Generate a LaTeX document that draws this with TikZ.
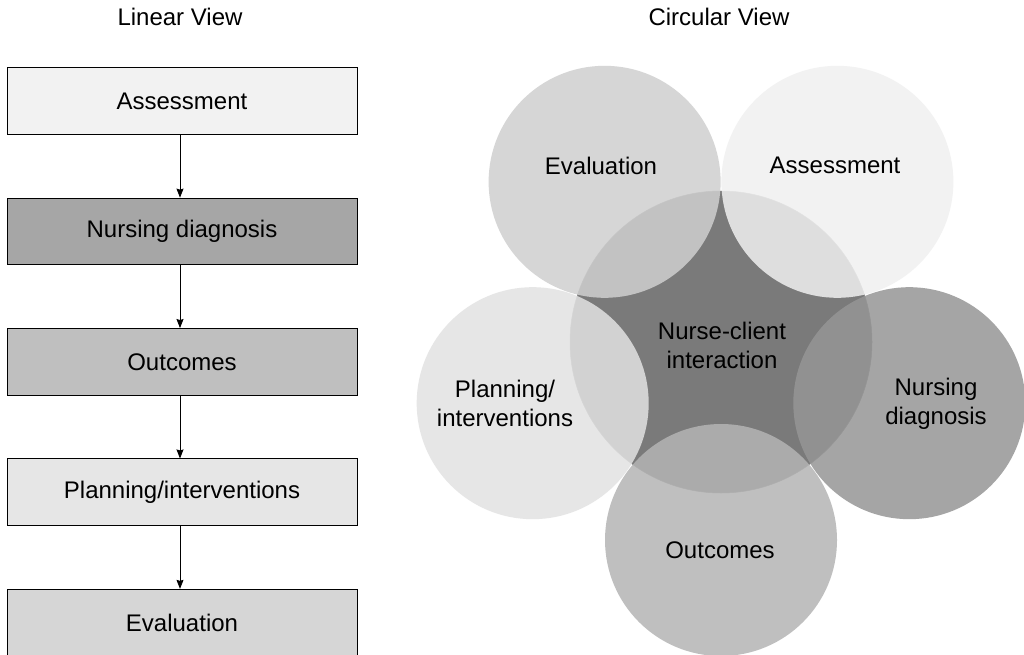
\documentclass[tikz,border=0pt]{standalone}
\usepackage{fontspec}
\setmainfont{Liberation Sans}
\usetikzlibrary{positioning,arrows.meta}

\definecolor{assesscol}{RGB}{242,242,242}
\definecolor{diagcol}{RGB}{166,166,166}
\definecolor{outcol}{RGB}{191,191,191}
\definecolor{plancol}{RGB}{230,230,230}
\definecolor{evalcol}{RGB}{214,214,214}
\definecolor{corecol}{RGB}{122,122,122}

\begin{document}
\begin{tikzpicture}[x=1pt,y=1pt]
	\tikzstyle{every node}=[font=\fontsize{24}{29}\selectfont]
	\tikzstyle{stage}=[rectangle,draw,line width=1pt,minimum width=350pt,minimum height=66.5pt,inner sep=0pt]
	\tikzstyle{flow}=[-{Stealth[length=9pt,width=7pt,inset=1pt]},line width=0.8pt]
	\tikzstyle{petal}=[circle,minimum size=232pt,inner sep=0pt,fill opacity=0.85]
	\tikzstyle{lbl}=[align=center,inner sep=0pt]
	\useasboundingbox[fill=white] (0,0) rectangle (1024,654);
	% linear view
	\node[lbl,anchor=base] (ltitle) at (180,628) {Linear View};
	\node[stage,fill=assesscol] (lassess) at (182,553) {Assessment};
	\node[stage,fill=diagcol,below=62.9pt of lassess] (ldiag) {Nursing diagnosis};
	\node[stage,fill=outcol,below=62.9pt of ldiag] (lout) {Outcomes};
	\node[stage,fill=plancol,below=62.9pt of lout] (lplan) {Planning/interventions};
	\node[stage,fill=evalcol,below=62.9pt of lplan] (leval) {Evaluation};
	\foreach \a/\b in {lassess/ldiag,ldiag/lout,lout/lplan,lplan/leval}
		\draw[flow] ([xshift=-2pt]\a.south) -- ([xshift=-2pt]\b.north);
	% circular view
	\node[lbl,anchor=base] (ctitle) at (719,628) {Circular View};
	\node[circle,minimum size=302pt,inner sep=0pt,fill=corecol,draw=black!45,line width=0.5pt] (core) at (721,312) {};
	\foreach \n/\ang/\g in {cassess/54/240,ceval/126/207,cplan/198/226,cout/270/180,cdiag/342/150}
		\node[petal,fill={rgb,255:red,\g;green,\g;blue,\g}] (\n) at ([shift={(\ang:198)}]core) {};
	\node[lbl,anchor=base] (tassess) at (835,480) {Assessment};
	\node[lbl,anchor=base] (teval) at (601,479) {Evaluation};
	\node[lbl] (tplan) at (505,251) {Planning/\\interventions};
	\node[lbl] (tdiag) at (936,250) {Nursing\\diagnosis};
	\node[lbl,anchor=base] (tout) at (720,96) {Outcomes};
	\node[lbl] (tcore) at (722,309) {Nurse-client\\interaction};
\end{tikzpicture}
\end{document}
